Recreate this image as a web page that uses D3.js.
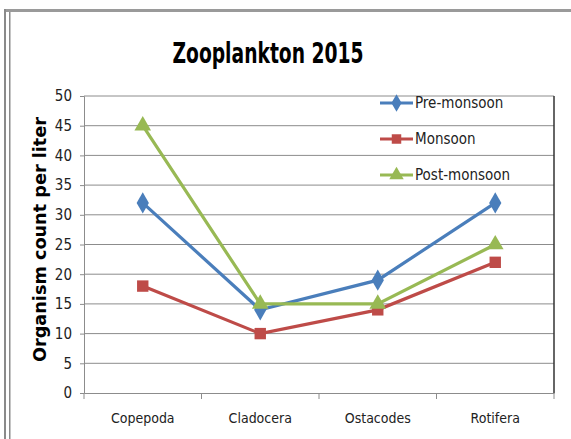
<!DOCTYPE html>
<html>
<head>
<meta charset="utf-8">
<script src="https://cdn.jsdelivr.net/npm/d3@7"></script>
<style>
  body { margin: 0; background: #fff; }
  svg { display: block; }
</style>
</head>
<body>
<div id="chart"></div>
<script>
// values
var categories = ["Copepoda", "Cladocera", "Ostacodes", "Rotifera"];
var preMonsoon = [32, 14, 19, 32];
var monsoon = [18, 10, 14, 22];
var postMonsoon = [45, 15, 15, 25];
var yTicks = [0, 5, 10, 15, 20, 25, 30, 35, 40, 45, 50];

var seriesList = [
    { name: "Pre-monsoon", values: preMonsoon, color: "#4a7ebb", marker: d3.symbolDiamond, size: 130 },
    { name: "Monsoon", values: monsoon, color: "#be4b48", marker: d3.symbolSquare, size: 130 },
    { name: "Post-monsoon", values: postMonsoon, color: "#98b954", marker: d3.symbolTriangle, size: 120 }
];

var W = 571, H = 439;
var margin = { top: 96, right: 17, bottom: 46, left: 84 };
var width = W - margin.left - margin.right;
var height = H - margin.top - margin.bottom;

var font = "'DejaVu Sans Condensed', 'Liberation Sans', sans-serif";

var svg = d3.select("#chart").append("svg")
    .attr("width", W)
    .attr("height", H);

// outer frame (double line on the left, gray top)
svg.append("rect").attr("x", 4).attr("y", 9).attr("width", W).attr("height", 3).attr("fill", "#9a9a9a");
svg.append("rect").attr("x", 4).attr("y", 9).attr("width", 2).attr("height", H).attr("fill", "#8a8a8a");
svg.append("rect").attr("x", 9).attr("y", 12).attr("width", 1.5).attr("height", H).attr("fill", "#8a8a8a");

svg.append("text")
    .attr("x", 268)
    .attr("y", 63)
    .attr("text-anchor", "middle")
    .style("font-family", font)
    .style("font-weight", "bold")
    .style("font-size", "28px")
    .attr("textLength", 191)
    .attr("lengthAdjust", "spacingAndGlyphs")
    .text("Zooplankton 2015");

var g = svg.append("g")
    .attr("transform", "translate(" + margin.left + "," + margin.top + ")");

var x = d3.scaleBand().domain(categories).range([0, width]);
var y = d3.scaleLinear().domain([0, 50]).range([height, 0]);

// gridlines
g.selectAll(".grid")
    .data(yTicks.slice(1))
    .enter().append("line")
    .attr("x1", 0).attr("x2", width)
    .attr("y1", function(d) { return y(d); })
    .attr("y2", function(d) { return y(d); })
    .attr("stroke", "#8c8c8c")
    .attr("stroke-width", 1);

// plot border right
g.append("line")
    .attr("x1", width).attr("x2", width)
    .attr("y1", 0).attr("y2", height)
    .attr("stroke", "#333").attr("stroke-width", 1.5);

// y axis
var yAxis = g.append("g")
    .call(d3.axisLeft(y).tickValues(yTicks).tickSize(4).tickPadding(8));
yAxis.select(".domain").attr("stroke", "#8c8c8c");
yAxis.selectAll(".tick line").attr("stroke", "#8c8c8c");
yAxis.selectAll("text")
    .style("font-family", font)
    .style("font-size", "15px")
    .attr("fill", "#222");

// x axis
var xAxis = g.append("g")
    .attr("transform", "translate(0," + height + ")")
    .call(d3.axisBottom(x).tickSize(0).tickPadding(20));
xAxis.select(".domain").attr("stroke", "#8c8c8c");
xAxis.selectAll("text")
    .style("font-family", font)
    .style("font-size", "14px")
    .attr("fill", "#222");
// tick marks at band edges
xAxis.selectAll(".edge")
    .data(categories.concat(["end"]))
    .enter().append("line")
    .attr("x1", function(d, i) { return i * x.step(); })
    .attr("x2", function(d, i) { return i * x.step(); })
    .attr("y1", 0).attr("y2", 6)
    .attr("stroke", "#8c8c8c");

// axis title
svg.append("text")
    .attr("transform", "translate(46," + (margin.top + height / 2 - 5) + ") rotate(-90)")
    .attr("text-anchor", "middle")
    .style("font-family", font)
    .style("font-weight", "bold")
    .style("font-size", "18px")
    .attr("textLength", 245)
    .attr("lengthAdjust", "spacingAndGlyphs")
    .text("Organism count per liter");

var line = d3.line()
    .x(function(d, i) { return x(categories[i]) + x.bandwidth() / 2; })
    .y(function(d) { return y(d); });

seriesList.forEach(function(s) {
    g.append("path")
        .attr("d", line(s.values))
        .attr("fill", "none")
        .attr("stroke", s.color)
        .attr("stroke-width", 3.2);

    g.selectAll(null)
        .data(s.values)
        .enter().append("path")
        .attr("d", d3.symbol().type(s.marker).size(s.size))
        .attr("transform", function(d, i) {
            return "translate(" + (x(categories[i]) + x.bandwidth() / 2) + "," + y(d) + ")";
        })
        .attr("fill", s.color);
});

// legend
var legend = svg.append("g").attr("transform", "translate(380,103)");
seriesList.forEach(function(s, i) {
    var row = legend.append("g").attr("transform", "translate(0," + (i * 36) + ")");
    row.append("line")
        .attr("x1", 0).attr("x2", 33)
        .attr("y1", 0).attr("y2", 0)
        .attr("stroke", s.color).attr("stroke-width", 3.2);
    row.append("path")
        .attr("d", d3.symbol().type(s.marker).size(90))
        .attr("transform", "translate(16.5,0)")
        .attr("fill", s.color);
    row.append("text")
        .attr("x", 35)
        .attr("y", 5)
        .style("font-family", font)
        .style("font-size", "15px")
        .attr("fill", "#222")
        .text(s.name);
});
</script>
</body>
</html>
